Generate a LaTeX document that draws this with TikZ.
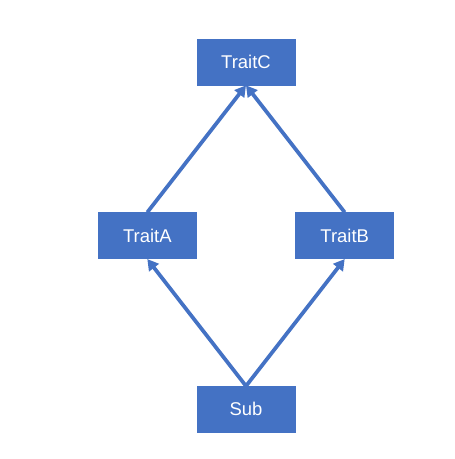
\documentclass[tikz,border=0pt]{standalone}
\usepackage{fontspec}
\setmainfont{Liberation Sans}
\usetikzlibrary{positioning,arrows.meta}
\definecolor{officeblue}{HTML}{4472C4}
\begin{document}
\begin{tikzpicture}[node distance=2.54cm and 0cm,
  trait node/.style={rectangle,fill=officeblue,draw=officeblue,text=white,
    minimum width=1.96cm,minimum height=0.92cm,inner sep=0pt,font=\fontsize{10.5}{12}\selectfont},
  link/.style={draw=officeblue,line width=0.075cm,-{Triangle[length=0.22cm,width=0.24cm]}}]
  \useasboundingbox (0,0) rectangle (9.08,9.18);

  \node[trait node] (traitc) at (4.92,7.94) {TraitC};
  \node[trait node] (traita) [below left=of traitc] {TraitA};
  \node[trait node] (traitb) [below right=of traitc] {TraitB};
  \node[trait node] (sub) [below right=of traita] {Sub};

  \draw[link] (traita.north) -- (traitc.south);
  \draw[link] (traitb.north) -- (traitc.south);

  \draw[link] (sub.north) -- (traita.south);
  \draw[link] (sub.north) -- (traitb.south);
\end{tikzpicture}
\end{document}
